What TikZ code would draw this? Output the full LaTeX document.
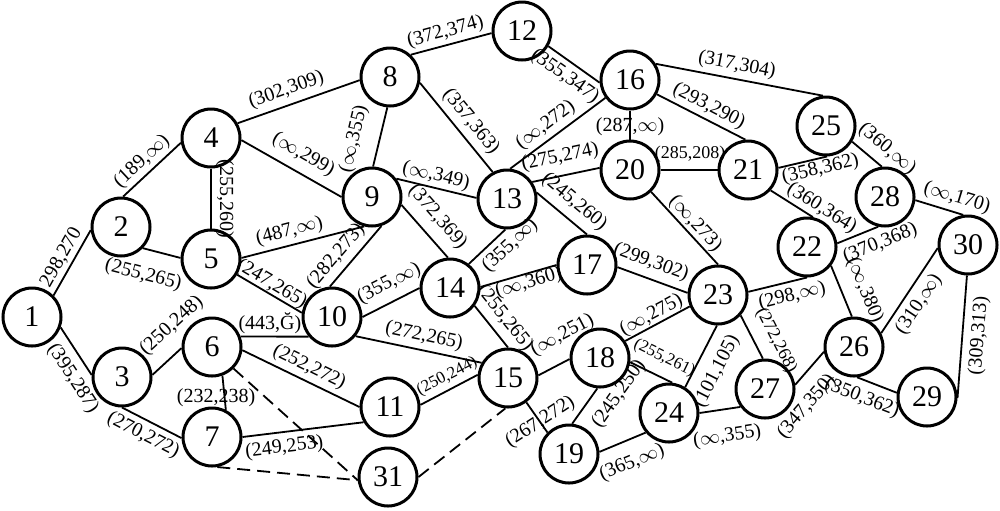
\documentclass[tikz,border=0pt]{standalone}
\usepackage{fontspec}
\setmainfont{Liberation Serif}
\newcommand{\infsym}{\ensuremath{\infty}}
\begin{document}
\begin{tikzpicture}[x=0.5pt,y=-0.5pt,
  nd/.style={circle,draw,line width=1.5pt,minimum size=29pt,inner sep=0pt,fill=white,font=\fontsize{15}{18}\selectfont},
  ed/.style={line width=0.9pt},
  dd/.style={line width=0.9pt,dash pattern=on 6.5pt off 3.5pt},
  lab/.style={sloped,inner sep=1.5pt,font=\fontsize{10}{12}\selectfont},
  hlab/.style={inner sep=1.5pt,font=\fontsize{10}{12}\selectfont},
  sm/.style={font=\fontsize{8.4}{10}\selectfont},
  md/.style={font=\fontsize{9}{11}\selectfont}]
\useasboundingbox (0,0) rectangle (1000,510);
% nodes
\node[nd] (n1) at (32,317) {1};
\node[nd] (n2) at (121,227) {2};
\node[nd] (n3) at (122,377) {3};
\node[nd] (n4) at (211,138) {4};
\node[nd] (n5) at (211,259) {5};
\node[nd] (n6) at (212,347) {6};
\node[nd] (n7) at (212,437) {7};
\node[nd] (n8) at (390,77) {8};
\node[nd] (n9) at (372,197) {9};
\node[nd] (n10) at (332,317) {10};
\node[nd] (n11) at (390,407) {11};
\node[nd] (n12) at (522,31) {12};
\node[nd] (n13) at (507,199) {13};
\node[nd] (n14) at (450,288) {14};
\node[nd] (n15) at (508,378) {15};
\node[nd] (n16) at (630,80) {16};
\node[nd] (n17) at (587,265) {17};
\node[nd] (n18) at (600,358) {18};
\node[nd] (n19) at (569,454) {19};
\node[nd] (n20) at (630,170) {20};
\node[nd] (n21) at (748,170) {21};
\node[nd] (n22) at (807,247) {22};
\node[nd] (n23) at (718,295) {23};
\node[nd] (n24) at (669,413) {24};
\node[nd] (n25) at (826,126) {25};
\node[nd] (n26) at (854,347) {26};
\node[nd] (n27) at (765,389) {27};
\node[nd] (n28) at (885,197) {28};
\node[nd] (n29) at (927,397) {29};
\node[nd] (n30) at (968,245) {30};
\node[nd] (n31) at (388,477) {31};
% edges
\draw[ed] (n1.45) -- node[lab,pos=.49,above] {298,270} (n2.186);
\draw[ed] (n1.-20) -- node[lab,pos=.87,below=2.4pt] {(395,287)} (n3.176);
\draw[ed] (n2.86) -- node[lab,pos=.48,above] {(189,\infsym)} (n4.189);
\draw[ed] (n2.-44) -- node[lab,pos=.18,below=6.5pt] {(255,265)} (n5.178);
\draw[ed] (n4.south) -- node[lab,pos=.5,above=0.5pt] {(255,260)} (n5.north);
\draw[ed] (n4.29) -- node[lab,pos=.44,above=1pt] {(302,309)} (n8.186);
\draw[ed] (n4.-4) -- node[lab,pos=.53,above=2.5pt] {(\infsym,299)} (n9.180);
\draw[ed] (n8.265) -- node[lab,pos=.63,above=6pt] {(\infsym,355)} (n9.88);
\draw[ed] (n8.47) -- node[lab,pos=.47,above] {(372,374)} (n12.184);
\draw[ed] (n8.-11) -- node[lab,pos=.54,above=1pt] {(357,363)} (n13.118);
\draw[ed] (n9.37) -- node[lab,pos=.46,above=-0.5pt] {(\infsym,349)} (n13.178);
\draw[ed] (n5.2) -- node[lab,pos=.42,above=0.5pt] {(487,\infsym)} (n9.255);
\draw[ed] (n10.94) -- node[lab,pos=.34,above=1pt] {(282,273)} (n9.-72);
\draw[ed] (n5.-31) -- node[lab,pos=.46,above=-1.8pt] {(247,265)} (n10.172);
\draw[ed] (n6.20) -- node[lab,pos=.43,above=-0.5pt] {(443,Ğ)} (n10.220);
\draw[ed] (n10.east) -- node[lab,pos=.61,above=2.5pt] {(355,\infsym)} (n14.west);
\draw[ed] (n10.-39) -- node[lab,pos=.52,above=0.5pt] {(272,265)} (n15.150);
\draw[ed] (n9.-15) -- node[lab,pos=.47,above=3pt] {(372,369)} (n14.94);
\draw[ed] (n13.267) -- node[lab,pos=.15,below=1pt] {(355,\infsym)} (n14.52);
\draw[ed] (n14.2) -- node[lab,pos=.6,below=-1.8pt] {(\infsym,360)} (n17.180);
\draw[ed] (n14.-36) -- node[lab,pos=.53,above=1.4pt] {(255,265)} (n15.90);
\draw[ed] (n11.4) -- node[lab,sm,pos=.57,above=0.6pt] {(250,244)} (n15.174);
\draw[ed] (n6.-6) -- node[lab,pos=.52,above=0.4pt] {(252,272)} (n11.180);
\draw[ed] (n6.-70) -- node[hlab,pos=.65,xshift=-4.3pt] {(232,238)} (n7.63);
\draw[ed] (n3.4) -- node[lab,pos=1.2,above=5pt] {(250,248)} (n6.182);
\draw[ed] (n3.-90) -- node[lab,pos=.47,below=1pt] {(270,272)} (n7.182);
\draw[ed] (n7.0) -- node[lab,pos=.33,below=1.3pt] {(249,253)} (n11.210);
\draw[dd] (n6.-45) -- (n31.186);
\draw[dd] (n7.-80) -- (n31.186);
\draw[dd] (n31.0) -- (n15.265);
\draw[ed] (n12.-30) -- node[lab,pos=.49,below=1pt] {(355,347)} (n16.185);
\draw[ed] (n13.84) -- node[lab,pos=.46,above=0.4pt] {(\infsym,272)} (n16.216);
\draw[ed] (n13.34) -- node[lab,pos=.47,above=2.8pt] {(275,274)} (n20.176);
\draw[ed] (n13.12) -- node[lab,pos=.53,above=2pt] {(245,260)} (n17.90);
\draw[ed] (n16.south) -- node[hlab,pos=.55] {(287,\infsym)} (n20.north);
\draw[ed] (n16.-28) -- node[lab,pos=.52,above] {(293,290)} (n21.95);
\draw[ed] (n16.32) -- node[lab,pos=.47,above=0.5pt] {(317,304)} (n25.96);
\draw[ed] (n20.0) -- node[lab,md,pos=.52,above=1.9pt] {(285,208)} (n21.180);
\draw[ed] (n20.-46) -- node[lab,pos=.54,above=-1pt] {(\infsym,273)} (n23.90);
\draw[ed] (n21.4) -- node[lab,pos=.81,below=-1pt] {(358,362)} (n25.-88);
\draw[ed] (n21.-42) -- node[lab,pos=1.06,above=-0.5pt] {(360,364)} (n22.79);
\draw[ed] (n25.-31) -- node[lab,pos=.81,above=2pt] {(360,\infsym)} (n28.96);
\draw[ed] (n28.-6) -- node[lab,pos=.78,above=0.8pt] {(\infsym,170)} (n30.99);
\draw[ed] (n22.7) -- node[lab,pos=.9,below=1.8pt] {(370,368)} (n28.257);
\draw[ed] (n17.-4) -- node[lab,pos=.4,above=1.6pt] {(299,302)} (n23.176);
\draw[ed] (n18.34) -- node[lab,pos=.48,above=-1.4pt] {(\infsym,275)} (n23.202);
\draw[ed] (n15.5) -- node[lab,pos=1.14,above=5.8pt] {(\infsym,251)} (n18.182);
\draw[ed] (n23.6) -- node[lab,pos=.69,below=0.8pt] {(298,\infsym)} (n22.-90);
\draw[ed] (n22.-38) -- node[lab,pos=.65,above=4.4pt] {(\infsym,380)} (n26.94);
\draw[ed] (n18.-8) -- node[lab,sm,pos=.62,above=3.5pt] {(255,261)} (n24.84);
\draw[ed] (n18.265) -- node[lab,pos=-.18,below=4pt] {(245,250)} (n19.84);
\draw[ed] (n15.-53) -- node[hlab,pos=.66,rotate=33] {(267,272)} (n19.135);
\draw[ed] (n19.4) -- node[lab,pos=.52,below=4.8pt] {(365,\infsym)} (n24.220);
\draw[ed] (n23.-92) -- node[lab,pos=.59,below=4pt] {(101,105)} (n24.58);
\draw[ed] (n24.0) -- node[lab,pos=.58,below=7.3pt] {(\infsym,355)} (n27.216);
\draw[ed] (n23.-42) -- node[lab,md,pos=.8,above=3.9pt] {(272,268)} (n27.94);
\draw[ed] (n27.8) -- node[lab,pos=-.2,below=5pt] {(347,350)} (n26.189);
\draw[ed] (n26.-84) -- node[lab,pos=.28,below=2.3pt] {(350,362)} (n29.172);
\draw[ed] (n26.27) -- node[lab,pos=.44,below=1.3pt] {(310,\infsym)} (n30.186);
\draw[ed] (n30.-92) -- node[lab,pos=.48,below=1.9pt] {(309,313)} (n29.-2);
\end{tikzpicture}
\end{document}
